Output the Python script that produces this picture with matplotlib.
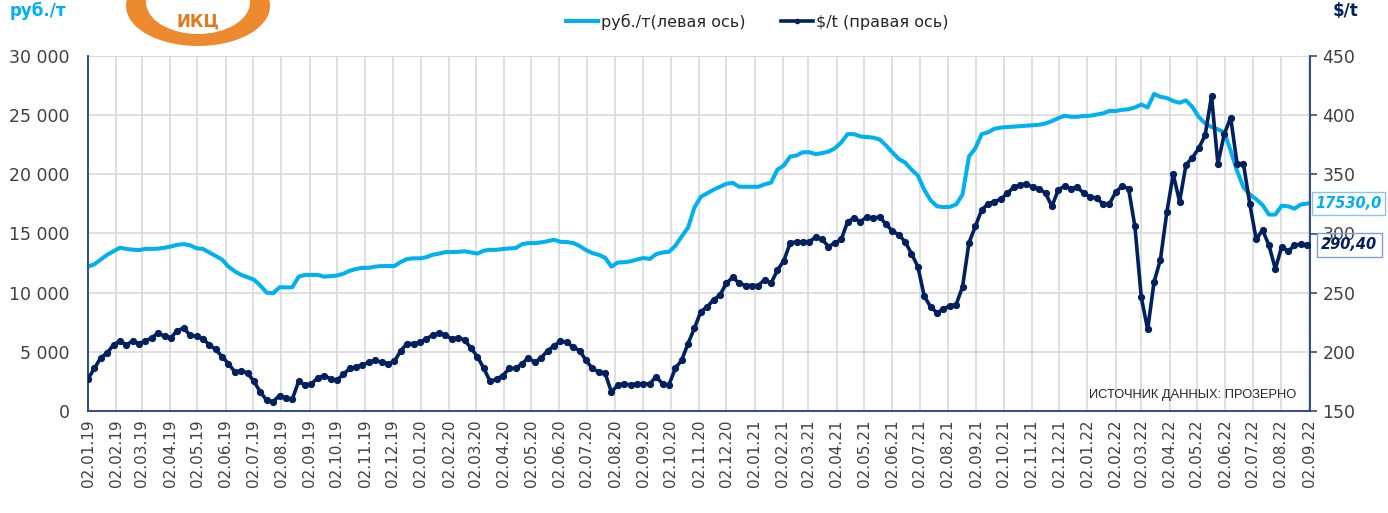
import matplotlib
matplotlib.use("Agg")
import matplotlib.pyplot as plt
from matplotlib.lines import Line2D
from matplotlib.patches import Ellipse
import pandas as pd

# ---------------- data ----------------
start_date = "2019-01-02"
n_weeks = 192
dates = pd.date_range(start_date, periods=n_weeks, freq="7D")

rub_per_t = [
    12200, 12400, 12800, 13200, 13500, 13800, 13700, 13630, 13600, 13700, 13700, 13720, 13800, 13900, 14050, 14100,
    14000, 13750, 13700, 13400, 13100, 12800, 12200, 11800, 11500, 11300, 11100, 10600, 10000, 9950, 10450, 10450,
    10450, 11350, 11500, 11500, 11500, 11350, 11400, 11450, 11600, 11850, 12000, 12100, 12100, 12200, 12250, 12250,
    12250, 12600, 12850, 12900, 12900, 13000, 13200, 13300, 13430, 13430, 13450, 13500, 13400, 13300, 13550, 13620,
    13620, 13690, 13740, 13770, 14100, 14190, 14190, 14250, 14350, 14470, 14300, 14275, 14200, 13950, 13600, 13350,
    13200, 12950, 12200, 12550, 12570, 12650, 12800, 12930, 12850, 13250, 13400, 13450, 13950, 14750, 15500, 17200,
    18100, 18400, 18700, 18950, 19200, 19280, 18950, 18950, 18950, 18950, 19150, 19300, 20400, 20750, 21500, 21600,
    21870, 21870, 21700, 21800, 21920, 22200, 22700, 23400, 23400, 23200, 23150, 23100, 22950, 22450, 21850, 21300,
    21000, 20400, 19900, 18700, 17800, 17300, 17230, 17250, 17450, 18300, 21500, 22200, 23400, 23550, 23850, 23950,
    24000, 24030, 24070, 24110, 24150, 24190, 24300, 24500, 24750, 24950, 24860, 24860, 24930, 24950, 25050, 25150,
    25350, 25350, 25450, 25500, 25650, 25900, 25650, 26800, 26550, 26450, 26200, 26050, 26250, 25700, 24850, 24300,
    24000, 23800, 23550, 22000, 20300, 18900, 18300, 17900, 17400, 16600, 16600, 17350, 17300, 17100, 17450, 17530,
]

usd_per_t = [
    177, 186, 195, 199, 206, 209, 206, 209, 207, 209, 212, 216, 213, 212, 218, 220,
    214, 213, 211, 206, 202, 196, 190, 183, 184, 182, 175, 166, 159, 158, 163, 161,
    160, 175, 172, 173, 178, 180, 177, 176, 181, 186, 187, 189, 191, 193, 191, 190,
    192, 201, 207, 207, 208, 211, 214, 216, 214, 211, 212, 210, 203, 196, 186, 175,
    177, 180, 186, 186, 190, 195, 191, 195, 201, 205, 209, 208, 204, 201, 193, 186,
    183, 182, 166, 172, 173, 172, 173, 173, 173, 179, 173, 172, 186, 193, 207, 220,
    234, 238, 244, 248, 258, 263, 258, 256, 256, 256, 261, 258, 269, 277, 292, 293,
    293, 293, 297, 295, 289, 292, 295, 310, 313, 310, 314, 313, 314, 308, 302, 299,
    293, 283, 272, 247, 238, 233, 236, 239, 240, 255, 292, 306, 320, 325, 327, 329,
    334, 339, 341, 342, 339, 338, 334, 323, 337, 340, 338, 339, 334, 331, 330, 325,
    325, 335, 340, 338, 306, 246, 219, 259, 278, 318, 350, 327, 358, 364, 372, 383,
    416, 359, 384, 398, 359, 359, 325, 295, 303, 290, 270, 289, 285, 290, 291, 290.4,
]

label_rub = "руб./т(левая ось)"
label_usd = "$/t (правая ось)"
last_rub_text = "17530,0"
last_usd_text = "290,40"
source_text = "ИСТОЧНИК ДАННЫХ: ПРОЗЕРНО"

LIGHT = "#00B0F0"
NAVY = "#002060"
GRID = "#d9d9d9"
SPINE = "#2f4b8c"
TXT = "#404040"

plt.rcParams["font.family"] = ["DejaVu Sans"]

W, H = 1388, 513
fig = plt.figure(figsize=(W / 100, H / 100), dpi=100)
L, R, T, B = 88, 1310, 56, 411
ax = fig.add_axes([L / W, 1 - B / H, (R - L) / W, (B - T) / H])
ax2 = ax.twinx()

ax.plot(dates, rub_per_t, color=LIGHT, lw=2.9, solid_joinstyle="round", zorder=3)
ax2.plot(dates, usd_per_t, color=NAVY, lw=2.6, marker="o", ms=4.2, zorder=4)

ax.set_ylim(0, 30000)
ax2.set_ylim(150, 450)
ax.set_yticks(range(0, 30001, 5000))
ax.set_yticklabels([f"{v:,}".replace(",", " ") for v in range(0, 30001, 5000)])
ax2.set_yticks(range(150, 451, 50))

xmin = pd.Timestamp("2019-01-02")
xmax = pd.Timestamp("2022-09-03")
ax.set_xlim(xmin, xmax)
month_ticks = pd.date_range("2019-01-01", "2022-09-01", freq="MS") + pd.Timedelta(days=1)
ax.set_xticks(month_ticks)
ax.set_xticklabels([d.strftime("%d.%m.%y") for d in month_ticks], rotation=90, fontsize=11, color=TXT)

ax.grid(True, axis="both", color=GRID, lw=1.2, zorder=0)
ax.set_axisbelow(True)
ax2.set_zorder(ax.get_zorder() + 1)
ax2.patch.set_visible(False)

for a in (ax, ax2):
    a.spines["top"].set_visible(False)
    for s in ("left", "right", "bottom"):
        a.spines[s].set_color(SPINE)
        a.spines[s].set_linewidth(1.2)

ax.tick_params(axis="y", length=0, labelsize=12.5, labelcolor=TXT, pad=13)
ax.tick_params(axis="x", length=0, pad=6)
ax2.tick_params(axis="y", length=5, width=1.2, color=SPINE, labelsize=12.5, labelcolor=TXT, pad=4)

ax.axhline(30000, color=GRID, lw=1.2, zorder=0)

# source note
ax.text(0.989, 0.045, source_text, transform=ax.transAxes, ha="right", va="center",
        fontsize=9.3, color="#262626", family=["Liberation Sans"])

# last value labels
ax.annotate(last_rub_text, xy=(1.0, rub_per_t[-1]), xycoords=("axes fraction", "data"),
            xytext=(4, 0), textcoords="offset points", ha="left", va="center",
            fontsize=10.5, fontweight="bold", fontstyle="italic", color=LIGHT,
            bbox=dict(boxstyle="square,pad=0.25", fc="white", ec="#8cc4ea", lw=1.0),
            annotation_clip=False, zorder=10)
ax2.annotate(last_usd_text, xy=(1.0, usd_per_t[-1]), xycoords=("axes fraction", "data"),
             xytext=(8, 0), textcoords="offset points", ha="left", va="center",
             fontsize=10.5, fontweight="bold", fontstyle="italic", color=NAVY,
             bbox=dict(boxstyle="square,pad=0.3", fc="none", ec="#7f9fd0", lw=1.0),
             annotation_clip=False, zorder=10)

# legend
handles = [Line2D([0], [0], color=LIGHT, lw=2.9),
           Line2D([0], [0], color=NAVY, lw=2.6, marker="o", ms=3)]
fig.legend(handles, [label_rub, label_usd], loc="center", bbox_to_anchor=(757 / W, 1 - 22 / H),
           ncol=2, frameon=False, fontsize=11.5, handlelength=2.0, handletextpad=0.2,
           columnspacing=2.2, labelcolor="#262626")

# axis unit labels
fig.text(10 / W, 1 - 2 / H, "руб./т", color=LIGHT, fontsize=12, fontweight="bold", ha="left", va="top")
fig.text(1345 / W, 1 - 2 / H, "$/t", color=NAVY, fontsize=12, fontweight="bold", ha="center", va="top")

# simple logo
lax = fig.add_axes([118 / W, 1 - 46 / H, 160 / W, 46 / H])
lax.set_xlim(0, 160)
lax.set_ylim(0, 46)
lax.axis("off")
lax.add_patch(Ellipse((80, 40), 144, 80, fc="#ED8A2F", ec="none"))
lax.add_patch(Ellipse((80, 44), 104, 64, fc="white", ec="none"))
lax.text(80, 24, "ИКЦ", color="#E07A20", fontsize=12, fontweight="bold", ha="center", va="center")

fig.savefig("out.png", dpi=100)
